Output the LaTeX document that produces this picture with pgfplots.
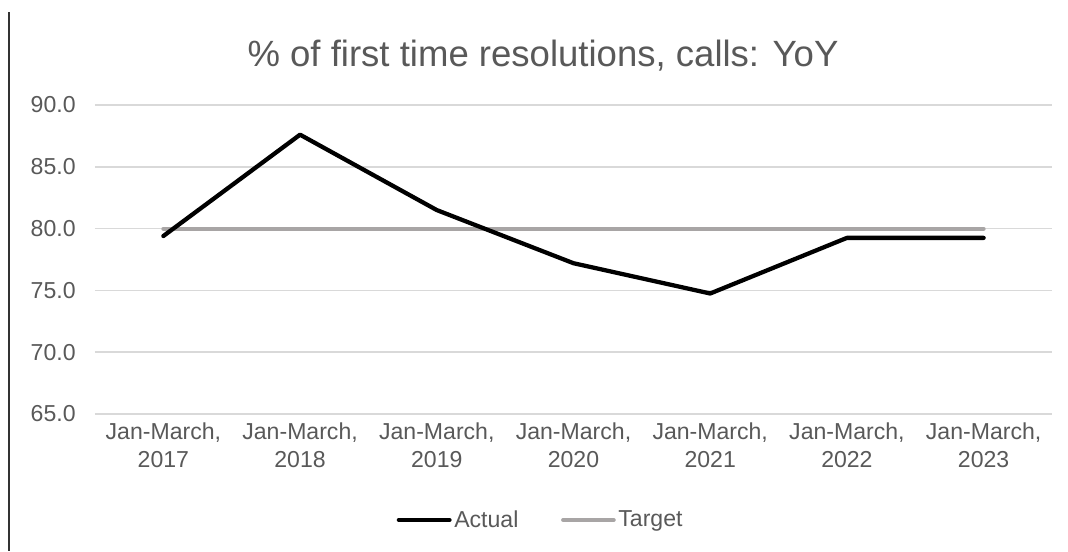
\documentclass[border=0pt]{standalone}
\usepackage{pgfplots}
\pgfplotsset{compat=1.18}
\usepackage{fontspec}
\setmainfont{Liberation Sans}
\definecolor{txt}{HTML}{595959}
\definecolor{gridc}{HTML}{D9D9D9}
\definecolor{tgt}{HTML}{A8A5A5}
\begin{document}
\begin{tikzpicture}
\useasboundingbox (0,0) rectangle (801pt,-413.25pt);
\fill[white] (0,0) rectangle (801pt,-413.25pt);
\draw[black!80, line width=1.5pt] (6.75pt,-9pt) -- (6.75pt,-413.25pt);
\node[text=txt, font=\fontsize{27.4pt}{32pt}\selectfont, anchor=base] at (407.25pt,-49.5pt) {\% of first time resolutions, calls: YoY};
\begin{axis}[
  at={(71.25pt,-310.5pt)}, anchor=south west,
  scale only axis, width=717.75pt, height=231.75pt,
  xmin=-0.5, xmax=6.5, ymin=65, ymax=90,
  axis line style={draw=none},
  ytick={65,70,75,80,85,90},
  xtick={0,1,2,3,4,5,6},
  xticklabels={{Jan-March,\\2017},{Jan-March,\\2018},{Jan-March,\\2019},{Jan-March,\\2020},{Jan-March,\\2021},{Jan-March,\\2022},{Jan-March,\\2023}},
  major tick length=0pt,
  xmajorgrids=false, ymajorgrids=true,
  y grid style={color=gridc, line width=1.1pt},
  yticklabel={\pgfmathprintnumber[fixed,fixed zerofill,precision=1]{\tick}},
  /pgf/number format/assume math mode=true,
  tick label style={text=txt, font=\fontsize{17.3pt}{21pt}\selectfont},
  yticklabel style={anchor=east, xshift=-11pt},
  xticklabel style={align=center, anchor=north, yshift=-3pt},
  legend style={draw=none, at={(0.466,-0.343)}, anchor=center, legend columns=2,
    font=\fontsize{17.3pt}{21pt}\selectfont, text=txt,
    /tikz/every even column/.append style={column sep=30pt},
    inner sep=0pt},
  legend image code/.code={\draw[#1, line cap=round] (0pt,0pt) -- (38pt,0pt);},
  legend cell align=left,
  reverse legend,
]
\addplot[tgt, line width=3pt, line cap=round] coordinates {(0,80) (1,80) (2,80) (3,80) (4,80) (5,80) (6,80)};
\addplot[black, line width=3.2pt, line join=round, line cap=round] coordinates {(0,79.4) (1,87.6) (2,81.5) (3,77.2) (4,74.75) (5,79.25) (6,79.25)};
\legend{\raisebox{0pt}[\height][0pt]{Target}, Actual}
\end{axis}
\end{tikzpicture}
\end{document}
